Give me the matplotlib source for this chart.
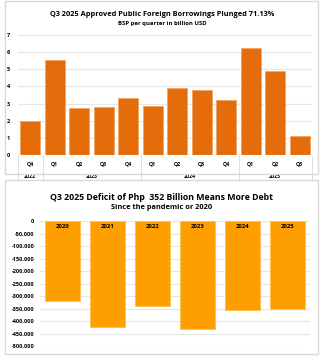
import matplotlib.pyplot as plt
from matplotlib.patches import Rectangle
from matplotlib.transforms import blended_transform_factory

# data - top chart (BSP approved public foreign borrowings, billion USD)
quarters = ['Q4', 'Q1', 'Q2', 'Q3', 'Q4', 'Q1', 'Q2', 'Q3', 'Q4', 'Q1', 'Q2', 'Q3']
borrowings = [2.0, 5.55, 2.75, 2.8, 3.3, 2.85, 3.9, 3.8, 3.2, 6.25, 4.9, 1.1]
year_groups = ['2022', '2023', '2024', '2025']
year_counts = [1, 4, 4, 3]

# data - bottom chart (deficit, million Php)
deficit_years = ['2020', '2021', '2022', '2023', '2024', '2025']
deficits = [-320000, -424000, -339000, -433000, -355000, -352000]

plt.rcParams['font.family'] = ['Open Sans', 'DejaVu Sans']
plt.rcParams['font.weight'] = 'bold'

fig = plt.figure(figsize=(3.24, 3.6), dpi=100)
W, H = 324, 360

# panel frames
for (x0, y0, x1, y1) in [(5, 1, 318, 174), (5, 180, 318, 354)]:
    fig.patches.append(Rectangle((x0 / W, 1 - y1 / H), (x1 - x0) / W, (y1 - y0) / H,
                                 transform=fig.transFigure, fill=False,
                                 edgecolor='#d9d9d9', linewidth=1.0))

# ---------- top chart ----------
ax1 = fig.add_axes([18 / W, 1 - 155 / H, (312 - 18) / W, (155 - 35) / H])
x = list(range(len(borrowings)))
ax1.bar(x, borrowings, width=0.82, color='#E46C0A', edgecolor='#F4A460', linewidth=0.6, zorder=3)
ax1.set_ylim(0, 7)
ax1.set_xlim(-0.5, len(borrowings) - 0.5)
ax1.set_yticks(range(0, 8))
ax1.tick_params(axis='y', labelsize=4, length=0, pad=6)
ax1.tick_params(axis='x', bottom=False, labelbottom=False)
ax1.grid(axis='y', color='#e6e6e6', linewidth=0.8, zorder=0)
for s in ax1.spines.values():
    s.set_visible(False)
ax1.axhline(0, color='#d9d9d9', linewidth=0.8, zorder=4)

trans = blended_transform_factory(ax1.transData, ax1.transAxes)
for i, q in enumerate(quarters):
    ax1.text(i, -0.075, q, transform=trans, ha='center', va='center', fontsize=3.8)
start = 0
bounds = [-0.5]
for yr, n in zip(year_groups, year_counts):
    mid = start + (n - 1) / 2
    ax1.text(mid, -0.175, yr, transform=trans, ha='center', va='center', fontsize=3.8)
    start += n
    bounds.append(start - 0.5)
for b in bounds:
    ax1.plot([b, b], [0, -0.21], transform=trans, color='#d9d9d9', linewidth=0.6, clip_on=False)

fig.text(0.5, 1 - 14 / H, 'Q3 2025 Approved Public Foreign Borrowings Plunged 71.13%',
         ha='center', va='center', fontsize=5.3, fontweight='bold')
fig.text(0.5, 1 - 24 / H, 'BSP per quarter in billion USD',
         ha='center', va='center', fontsize=4.3, fontweight='bold')

# ---------- bottom chart ----------
ax2 = fig.add_axes([40 / W, 1 - 346 / H, (310 - 40) / W, (346 - 221) / H])
x2 = list(range(len(deficits)))
ax2.bar(x2, deficits, width=0.76, color='#FF9E00', edgecolor='#FFC04D', linewidth=0.6, zorder=3)
ax2.set_ylim(-500000, 0)
ax2.set_xlim(-0.5, len(deficits) - 0.5)
ax2.set_yticks(range(-500000, 1, 50000))
ax2.yaxis.set_major_formatter(lambda v, p: f'{int(v):,}')
ax2.tick_params(axis='y', labelsize=4, length=0, pad=4)
ax2.tick_params(axis='x', bottom=False, labelbottom=False)
ax2.grid(axis='y', color='#e6e6e6', linewidth=0.8, zorder=0)
for s in ax2.spines.values():
    s.set_visible(False)
for i, yr in enumerate(deficit_years):
    ax2.text(i, -20000, yr, ha='center', va='center', fontsize=4.3, fontweight='bold', zorder=5)

fig.text(0.5, 1 - 197 / H, 'Q3 2025 Deficit of Php  352 Billion Means More Debt',
         ha='center', va='center', fontsize=6.3, fontweight='bold')
fig.text(0.5, 1 - 208 / H, 'Since the pandemic or 2020',
         ha='center', va='center', fontsize=5.3, fontweight='bold')

fig.savefig('out.png', dpi=100)
